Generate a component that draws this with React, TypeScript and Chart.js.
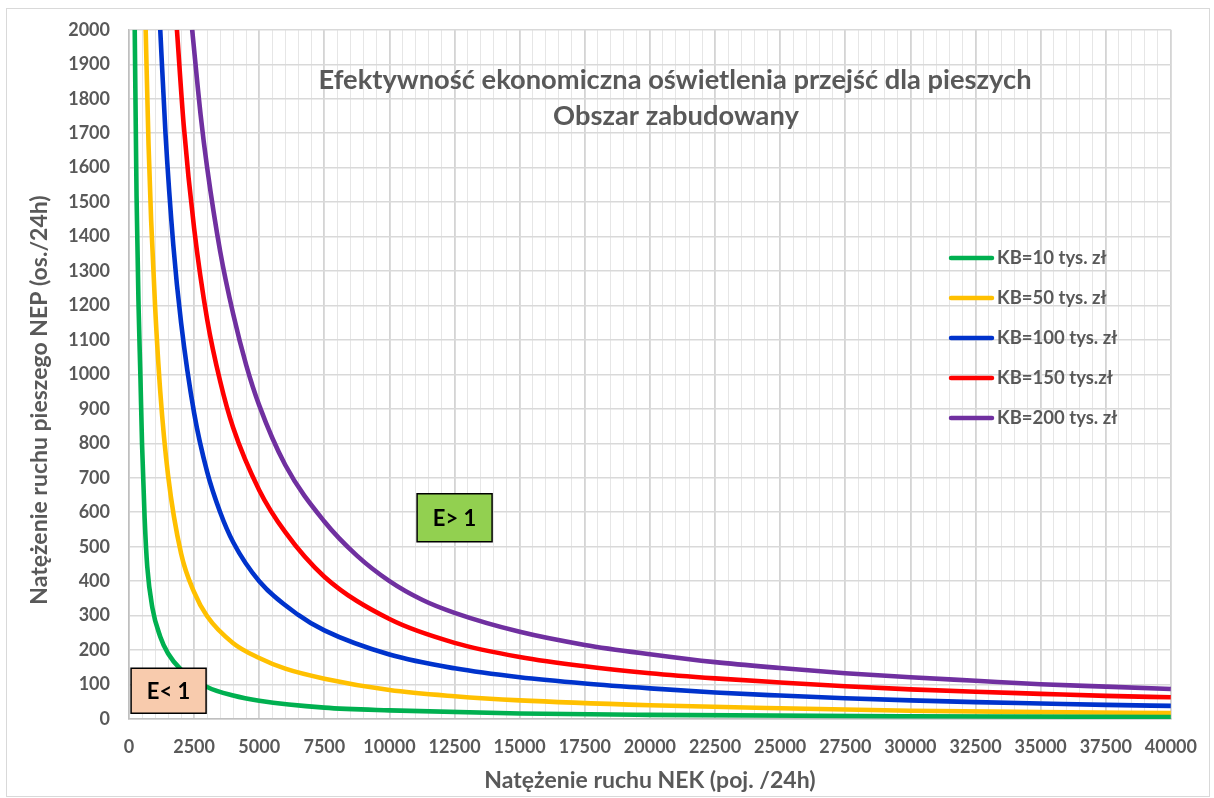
import React, { useEffect, useRef } from 'react';
import { Chart, registerables } from 'chart.js';

Chart.register(...registerables);

// ---- data ----
const kb10X = [220, 290, 370, 440, 500, 600, 700, 900, 1200, 1500, 2000, 3000, 4000, 5000, 7500, 10000, 15000, 20000, 30000, 40000];
const kb10Y = [2000, 1517, 1190, 989, 800, 583, 443, 322, 239, 190, 143, 93, 68, 53, 33, 25, 16, 12, 8, 6];

const kb50X = [640, 750, 850, 1000, 1200, 1500, 2000, 2500, 3000, 4000, 5000, 6000, 7500, 10000, 12500, 15000, 20000, 25000, 30000, 35000, 40000];
const kb50Y = [2000, 1667, 1447, 1200, 950, 707, 480, 368, 298, 220, 177, 146, 117, 84, 66, 54, 40, 31, 24, 20, 17];

const kb100X = [1200, 1400, 1700, 2000, 2500, 3000, 3500, 4000, 5000, 6500, 7500, 10000, 12500, 15000, 17500, 20000, 22500, 25000, 27500, 30000, 32500, 35000, 37500, 40000];
const kb100Y = [2000, 1700, 1376, 1150, 888, 717, 600, 513, 400, 302, 257, 187, 147, 121, 103, 89, 77, 68, 60, 54, 49, 45, 41, 38];

const kb150X = [1840, 2100, 2500, 3000, 3500, 4000, 5000, 6000, 7500, 10000, 12500, 15000, 17500, 20000, 22500, 25000, 27500, 30000, 32500, 35000, 37500, 40000];
const kb150Y = [2000, 1724, 1424, 1160, 980, 845, 664, 542, 413, 290, 221, 180, 153, 133, 118, 106, 95, 86, 79, 73, 67, 63];

const kb200X = [2425, 2750, 3000, 3500, 4000, 4500, 5000, 6000, 7500, 8750, 10000, 11250, 12500, 15000, 17500, 20000, 22500, 25000, 27500, 30000, 32500, 35000, 37500, 40000];
const kb200Y = [2000, 1753, 1600, 1357, 1175, 1027, 910, 737, 573, 474, 400, 346, 308, 253, 215, 188, 165, 148, 133, 121, 111, 101, 94, 87];

const seriesXs = [kb10X, kb50X, kb100X, kb150X, kb200X];
const seriesYs = [kb10Y, kb50Y, kb100Y, kb150Y, kb200Y];
const seriesLabels = ['KB=10 tys. zł', 'KB=50 tys. zł', 'KB=100 tys. zł', 'KB=150 tys.zł', 'KB=200 tys. zł'];
const seriesColors = ['#00B050', '#FFC000', '#0033CC', '#FF0000', '#7030A0'];

const titleLines = ['Efektywność ekonomiczna oświetlenia przejść dla pieszych', 'Obszar zabudowany'];
const yAxisTitle = 'Natężenie ruchu pieszego NEP (os./24h)';
const xAxisTitle = 'Natężenie ruchu NEK (poj. /24h)';

const noteTexts = ['E> 1', 'E< 1'];
const noteX = [12500, 1520];
const noteY = [584, 82];
const noteFills = ['#92D050', '#F8CBAD'];

const FONT = "Lato, 'Liberation Sans', sans-serif";
const GRAY = '#595959';

export default function App() {
  const ref = useRef<HTMLCanvasElement>(null);

  useEffect(() => {
    const canvas = ref.current;
    if (!canvas) return;

    const datasets = seriesXs.map((xs, i) => ({
      label: seriesLabels[i],
      data: xs.map((x, j) => ({ x, y: seriesYs[i][j] })),
      borderColor: seriesColors[i],
      backgroundColor: seriesColors[i],
      borderWidth: 4.6,
      pointRadius: 0,
      pointHoverRadius: 0,
      cubicInterpolationMode: 'monotone' as const,
      fill: false,
    }));

    const overlay = {
      id: 'overlay',
      afterDatasetsDraw(chart: any) {
        const { ctx, chartArea, scales } = chart;
        ctx.save();
        // title
        ctx.fillStyle = GRAY;
        ctx.textAlign = 'center';
        ctx.textBaseline = 'middle';
        ctx.font = `bold 27.3px ${FONT}`;
        ctx.fillText(titleLines[0], 675, 80);
        ctx.fillText(titleLines[1], 676, 116);

        // legend
        seriesLabels.forEach((lab, i) => {
          const y = 258 + 40 * i;
          ctx.strokeStyle = seriesColors[i];
          ctx.lineWidth = 4.5;
          ctx.lineCap = 'round';
          ctx.beginPath();
          ctx.moveTo(951, y);
          ctx.lineTo(992, y);
          ctx.stroke();
          ctx.fillStyle = GRAY;
          ctx.textAlign = 'left';
          ctx.textBaseline = 'middle';
          ctx.font = `bold 18.5px ${FONT}`;
          ctx.fillText(lab, 997, y);
        });

        // annotation boxes
        noteTexts.forEach((t, i) => {
          const cx = scales.x.getPixelForValue(noteX[i]);
          const cy = scales.y.getPixelForValue(noteY[i]);
          const w = 75;
          const h = i === 0 ? 48 : 45;
          ctx.fillStyle = noteFills[i];
          ctx.fillRect(cx - w / 2, cy - h / 2, w, h);
          ctx.strokeStyle = '#000';
          ctx.lineWidth = 1.5;
          ctx.strokeRect(cx - w / 2, cy - h / 2, w, h);
          ctx.fillStyle = '#000';
          ctx.textAlign = 'center';
          ctx.textBaseline = 'middle';
          ctx.font = `bold 22px ${FONT}`;
          ctx.fillText(t, cx, cy + 1);
        });

        // axis titles
        ctx.fillStyle = GRAY;
        ctx.font = `bold 23px ${FONT}`;
        ctx.textAlign = 'center';
        ctx.textBaseline = 'middle';
        ctx.fillText(xAxisTitle, (chartArea.left + chartArea.right) / 2, 781);
        ctx.save();
        ctx.translate(40, 400);
        ctx.rotate(-Math.PI / 2);
        ctx.fillText(yAxisTitle, 0, 0);
        ctx.restore();
        ctx.restore();
      },
    };

    const chart = new Chart(canvas, {
      type: 'line',
      data: { datasets: datasets as any },
      options: {
        responsive: false,
        animation: false,
        events: [],
        layout: { padding: { left: 0, top: 24, right: 43, bottom: 0 } },
        plugins: {
          legend: { display: false },
          title: { display: false },
          tooltip: { enabled: false },
        },
        scales: {
          x: {
            type: 'linear',
            min: 0,
            max: 40000,
            afterFit: (s: any) => { s.height = 79; },
            ticks: {
              stepSize: 500,
              autoSkip: false,
              maxRotation: 0,
              minRotation: 0,
              padding: 17,
              color: GRAY,
              font: { family: FONT, size: 18, weight: 'bold' },
              callback: (v: any) => (Number(v) % 2500 === 0 ? String(v) : ''),
            },
            grid: {
              drawTicks: false,
              color: (c: any) => (c.tick && c.tick.value % 2500 === 0 ? '#d4d4d4' : '#e6e6e6'),
              lineWidth: (c: any) => (c.tick && c.tick.value % 2500 === 0 ? 1.8 : 1),
            },
            border: { color: '#bfbfbf', width: 1.5 },
          },
          y: {
            type: 'linear',
            min: 0,
            max: 2000,
            afterFit: (s: any) => { s.width = 129; },
            ticks: {
              stepSize: 100,
              autoSkip: false,
              padding: 19,
              color: GRAY,
              font: { family: FONT, size: 18, weight: 'bold' },
              callback: (v: any) => String(v),
            },
            grid: { drawTicks: false, color: '#d9d9d9', lineWidth: 1.5 },
            border: { color: '#bfbfbf', width: 1.5 },
          },
        },
      } as any,
      plugins: [overlay],
    });

    return () => chart.destroy();
  }, []);

  return (
    <div style={{ position: 'fixed', left: 0, top: 0, width: 1214, height: 798, background: '#fff' }}>
      <div
        style={{
          position: 'absolute', left: 6, top: 8, width: 1204, height: 789,
          border: '1px solid #d9d9d9', boxSizing: 'border-box',
        }}
      />
      <canvas ref={ref} width={1214} height={798} style={{ position: 'absolute', left: 0, top: 0 }} />
    </div>
  );
}
